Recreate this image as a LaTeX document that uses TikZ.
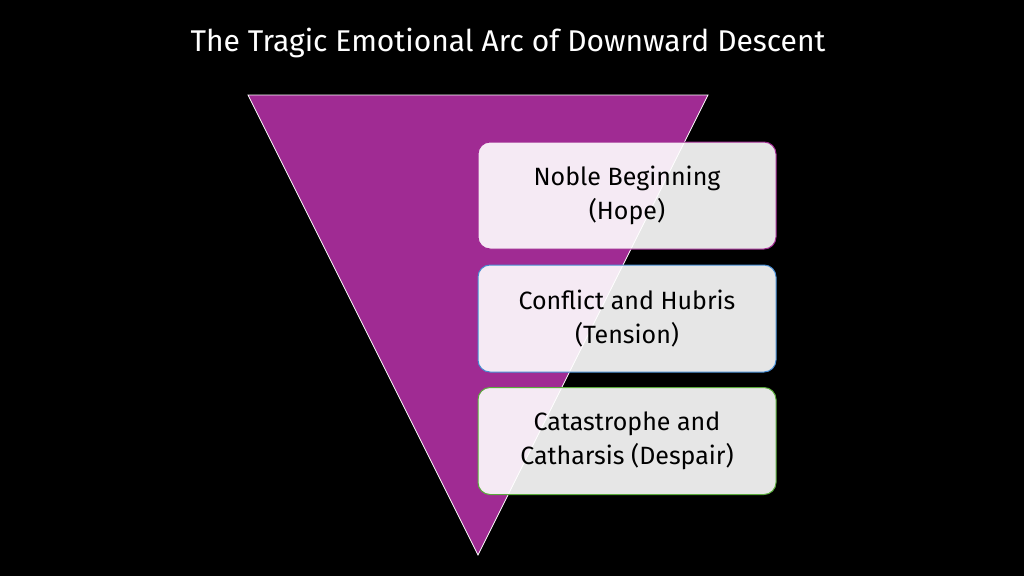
\documentclass[tikz,border=0pt]{standalone}
\usepackage{fontspec}
\setmainfont{Fira Sans}
\begin{document}
\begin{tikzpicture}[x=1pt,y=-1pt,
  stagebox/.style={rounded corners=12pt,fill=white,fill opacity=0.9,text opacity=1,line width=1pt,minimum width=298pt,minimum height=107pt,align=center,font=\fontsize{25}{34}\selectfont\addfontfeature{LetterSpace=0}}]
\fill[black] (0,0) rectangle (1024,576);
\useasboundingbox (0,0) rectangle (1024,576);
\node[white,font=\fontsize{30}{36}\selectfont] (title) at (508,43) {The Tragic Emotional Arc of Downward Descent};
\draw[white,line width=0.8pt,fill={rgb,255:red,160;green,43;blue,147}] (248,95) -- (708,95) -- (478,555) -- cycle;
\coordinate (tip) at (478,555);
\node[stagebox,draw={rgb,255:red,160;green,43;blue,147}] (b1) at (627,195.5) {Noble Beginning\\(Hope)};
\node[stagebox,draw={rgb,255:red,70;green,140;blue,210}] (b2) at (627,318.5) {Conflict and Hubris\\(Tension)};
\node[stagebox,draw={rgb,255:red,90;green,170;blue,60}] (b3) at (627,441) {Catastrophe and\\Catharsis (Despair)};
\end{tikzpicture}
\end{document}
